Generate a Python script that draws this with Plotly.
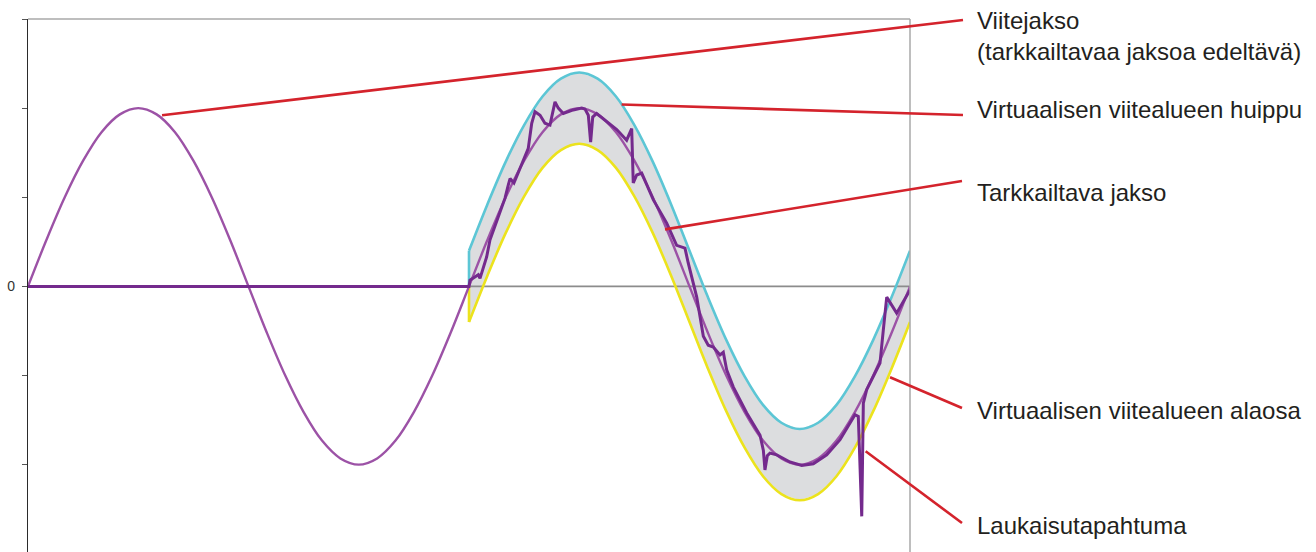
import plotly.graph_objects as go

# ---------------- data ----------------
# Reference waveform (previous cycle, also superimposed on the monitored cycle), every 15 degrees
ref_x = list(range(0, 721, 15))
ref_y = [0, 0.52, 1.0, 1.41, 1.73, 1.93, 2.0, 1.93, 1.73, 1.41, 1.0, 0.52,
         0, -0.52, -1.0, -1.41, -1.73, -1.93, -2.0, -1.93, -1.73, -1.41, -1.0, -0.52,
         0, 0.52, 1.0, 1.41, 1.73, 1.93, 2.0, 1.93, 1.73, 1.41, 1.0, 0.52,
         0, -0.52, -1.0, -1.41, -1.73, -1.93, -2.0, -1.93, -1.73, -1.41, -1.0, -0.52, 0]

# Virtual reference envelope (upper / lower) over the monitored cycle
band_x = list(range(360, 721, 15))
band_upper = [0.4, 0.92, 1.4, 1.81, 2.13, 2.33, 2.4, 2.33, 2.13, 1.81, 1.4, 0.92,
              0.4, -0.12, -0.6, -1.01, -1.33, -1.53, -1.6, -1.53, -1.33, -1.01, -0.6, -0.12, 0.4]
band_lower = [-0.4, 0.12, 0.6, 1.01, 1.33, 1.53, 1.6, 1.53, 1.33, 1.01, 0.6, 0.12,
              -0.4, -0.92, -1.4, -1.81, -2.13, -2.33, -2.4, -2.33, -2.13, -1.81, -1.4, -0.92, -0.4]
band_start_x = [360, 360]
band_start_upper = [0, 0.4]
band_start_lower = [0, -0.4]

# Monitored (measured) waveform
meas_x = [0, 360, 360.8, 367.6, 369.0, 370.4, 374.4, 377.1, 383.9, 389.4,
          392.1, 393.5, 396.7, 404.3, 408.4, 411.2, 413.9, 418.0, 422.0, 426.1,
          430.2, 432.9, 437.0, 445.1, 452.0, 454.7, 457.4, 459.3, 461.0, 464.2,
          472.4, 480.6, 488.7, 492.8, 494.1, 496.9, 501.0, 510.5, 521.4, 529.5,
          536.3, 539.0, 545.9, 551.3, 555.3, 559.4, 564.9, 567.6, 570.4, 575.8,
          586.7, 597.6, 600.3, 601.6, 603.5, 605.7, 611.2, 622.0, 631.6, 641.1,
          652.0, 662.9, 675.1, 677.8, 680.6, 681.9, 684.6, 695.5, 698.2, 701.0,
          709.1, 720.0]
meas_y = [0, 0, 0.07, 0.13, 0.09, 0.15, 0.33, 0.52, 0.78, 0.99,
          1.14, 1.21, 1.16, 1.42, 1.55, 1.83, 1.96, 1.92, 1.83, 1.81,
          2.07, 2.00, 1.94, 1.98, 2.00, 1.99, 1.92, 1.62, 1.90, 1.94,
          1.85, 1.76, 1.64, 1.77, 1.16, 1.25, 1.27, 0.97, 0.71, 0.46,
          0.43, 0.26, -0.12, -0.56, -0.66, -0.68, -0.77, -0.74, -0.94, -1.13,
          -1.42, -1.67, -1.84, -2.06, -1.90, -1.87, -1.89, -1.97, -2.01, -1.99,
          -1.89, -1.72, -1.44, -1.46, -2.58, -1.31, -1.16, -0.86, -0.49, -0.12,
          -0.30, -0.04]

# Callout texts
callout_texts = [
    "Viitejakso<br>(tarkkailtavaa jaksoa edeltävä)",
    "Virtuaalisen viitealueen huippu",
    "Tarkkailtava jakso",
    "Virtuaalisen viitealueen alaosa",
    "Laukaisutapahtuma",
]

# Y ticks
y_tickvals = [-3, -2, -1, 0, 1, 2, 3]
y_ticktext = ["", "", "", "0", "", "", ""]

# ---------------- layout geometry ----------------
W, H = 1316, 552
ML, MR, MT, MB = 28, 406, 19, 0
PW, PH = W - ML - MR, H - MT - MB
X_RANGE = [0, 720]
Y_RANGE = [-2.98, 3.0]

def px_to_paper_x(px):
    return (px - ML) / PW

def py_to_paper_y(py):
    return (H - MB - py) / PH

def data_to_paper(x, y):
    return ((x - X_RANGE[0]) / (X_RANGE[1] - X_RANGE[0]),
            (y - Y_RANGE[0]) / (Y_RANGE[1] - Y_RANGE[0]))

# callout anchors (data units) and leader end / text positions (page pixels)
callout_anchor = [(109.4, 1.92), (484.6, 2.04), (520.0, 0.64), (703.7, -1.02), (683.8, -1.85)]
leader_end_px = [(963, 20), (963, 115), (962, 181), (962, 408), (962, 523)]
text_center_py = [36, 109, 192, 410, 525]
TEXT_X_PX = 976

C_REF = "#9c52a6"
C_MEAS = "#742a8d"
C_CYAN = "#5cc6d5"
C_YEL = "#ece31d"
C_FILL = "#dcdddf"
C_RED = "#d4232c"
C_GRID = "#8c8c8c"

fig = go.Figure()

# envelope fill
fig.add_trace(go.Scatter(x=band_start_x + band_x, y=band_start_lower + band_lower, mode="lines",
                         line=dict(width=0), hoverinfo="skip", showlegend=False))
fig.add_trace(go.Scatter(x=band_start_x + band_x, y=band_start_upper + band_upper, mode="lines",
                         line=dict(width=0), fill="tonexty", fillcolor=C_FILL,
                         hoverinfo="skip", showlegend=False))
# zero line
fig.add_trace(go.Scatter(x=X_RANGE, y=[0, 0], mode="lines", line=dict(color=C_GRID, width=1.6),
                         hoverinfo="skip", showlegend=False))
# envelope lines
for yy, col in ((band_lower, C_YEL), (band_upper, C_CYAN)):
    fig.add_trace(go.Scatter(x=band_x, y=yy, mode="lines", line=dict(color=col, width=2.6, shape="spline"),
                             hoverinfo="skip", showlegend=False))
for yy, col in ((band_start_lower, C_YEL), (band_start_upper, C_CYAN)):
    fig.add_trace(go.Scatter(x=band_start_x, y=yy, mode="lines", line=dict(color=col, width=2.6),
                             hoverinfo="skip", showlegend=False))
# reference waveform
fig.add_trace(go.Scatter(x=ref_x, y=ref_y, mode="lines", line=dict(color=C_REF, width=2.4, shape="spline"),
                         hoverinfo="skip", showlegend=False))
# measured waveform
fig.add_trace(go.Scatter(x=meas_x, y=meas_y, mode="lines", line=dict(color=C_MEAS, width=3),
                         hoverinfo="skip", showlegend=False))

shapes = []
# top and right frame
shapes.append(dict(type="line", xref="paper", yref="paper", x0=0, x1=1, y0=1, y1=1,
                   line=dict(color="#a8a8a8", width=1.5), layer="above"))
shapes.append(dict(type="line", xref="paper", yref="paper", x0=1, x1=1, y0=0, y1=1,
                   line=dict(color="#a8a8a8", width=1.5), layer="above"))

annotations = []
for txt, (ax_, ay_), (ex, ey), ty in zip(callout_texts, callout_anchor, leader_end_px, text_center_py):
    sx, sy = data_to_paper(ax_, ay_)
    shapes.append(dict(type="line", xref="paper", yref="paper", x0=sx, y0=sy,
                       x1=px_to_paper_x(ex), y1=py_to_paper_y(ey),
                       line=dict(color=C_RED, width=2.6), layer="above"))
    annotations.append(dict(xref="paper", yref="paper", x=px_to_paper_x(TEXT_X_PX), y=py_to_paper_y(ty),
                            xanchor="left", yanchor="middle", align="left", showarrow=False,
                            borderpad=0,
                            text=txt, font=dict(family="Liberation Sans, Arial, sans-serif",
                                                size=24, color="#231f20")))

fig.update_layout(
    width=W, height=H,
    margin=dict(l=ML, r=MR, t=MT, b=MB, pad=0),
    paper_bgcolor="white", plot_bgcolor="white",
    showlegend=False,
    shapes=shapes, annotations=annotations,
    xaxis=dict(range=X_RANGE, showgrid=False, zeroline=False, showticklabels=False,
               ticks="", showline=False, fixedrange=True),
    yaxis=dict(range=Y_RANGE, showgrid=False, zeroline=False, showline=True,
               linecolor="#2b2b2b", linewidth=1.4, ticks="outside", ticklen=5,
               tickwidth=1, tickcolor="#555555", tickvals=y_tickvals, ticktext=y_ticktext,
               ticklabelstandoff=4,
               tickfont=dict(family="Liberation Sans, Arial, sans-serif", size=14, color="#333333"),
               fixedrange=True),
)

fig.write_html("out.html", config={"displayModeBar": False},
               post_script="document.body.style.margin='0';document.body.style.overflow='hidden';")
